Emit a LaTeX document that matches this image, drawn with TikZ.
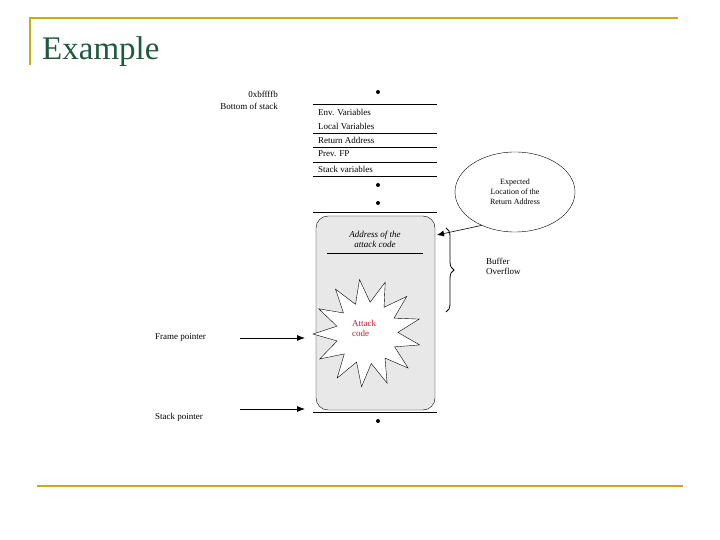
\documentclass[tikz,border=0pt]{standalone}
\usepackage{fontspec}
\setmainfont{Liberation Serif}
\usetikzlibrary{shapes.geometric,decorations.pathreplacing,patterns,arrows.meta}
\definecolor{gold}{RGB}{204,170,20}
\definecolor{titlegreen}{RGB}{30,90,60}
\definecolor{attackred}{RGB}{190,30,40}
\tikzset{
  lbl/.style={font=\fontsize{9}{10}\selectfont, inner sep=0pt},
  row/.style={lbl, anchor=west},
  sep/.style={line width=0.7pt},
  ptr/.style={-{Latex[length=8pt,width=6pt]}, line width=0.8pt},
  stackdot/.style={circle, fill=black, inner sep=0pt, minimum size=4pt}
}
\begin{document}
\begin{tikzpicture}[x=1pt,y=-1pt]
\useasboundingbox (0,0) rectangle (720,540);
% frame
\draw[gold, line width=2pt] (30,65) -- (30,18) -- (678,18);
\draw[gold, line width=2pt] (37,486) -- (683,486);
\node[anchor=west, text=titlegreen, font=\fontsize{33}{35}\selectfont, inner sep=0pt] (title) at (42,52) {Example};
% left labels
\node[lbl, anchor=east] (addr) at (278,94) {0xbffffb};
\node[lbl, anchor=east] (bottom) at (278,106) {Bottom of stack};
% stack
\node[stackdot] (d1) at (378,92) {};
\foreach \y in {104,133,147,162,176,212,412} \draw[sep] (313,\y) -- (437,\y);
\node[row] (env) at (318,112) {Env. Variables};
\node[row] (loc) at (318,126) {Local Variables};
\node[row] (ret) at (318,140) {Return Address};
\node[row] (pfp) at (318,154) {Prev. FP};
\node[row] (sv) at (318,169) {Stack variables};
\node[stackdot] (d2) at (378,185) {};
\node[stackdot] (d3) at (378,203) {};
\node[stackdot] (d4) at (378,421) {};
% buffer box
\draw[rounded corners=12pt, fill=gray!18] (316,216) rectangle (435,410);
\node[lbl, font=\fontsize{9}{10}\selectfont\itshape, align=center] (ac) at (375,239) {Address of the\\attack code};
\draw[sep] (327,253) -- (423,253);
\node[star, star points=13, star point ratio=1.75, draw, fill=white, minimum size=108pt, inner sep=0pt, rotate=8] (burst) at (367,333) {};
\node[lbl, text=attackred, align=left, anchor=west] (atk) at (352,328) {Attack\\code};
% pointers
\node[lbl, anchor=west] (fp) at (155,337) {Frame pointer};
\node[lbl, anchor=west] (sp) at (155,417) {Stack pointer};
\coordinate (fpend) at (305,338);
\coordinate (spend) at (305,409);
\draw[ptr] (240,338) -- (fpend);
\draw[ptr] (240,409) -- (spend);
% ellipse
\node[ellipse, draw, minimum width=120pt, minimum height=80pt, inner sep=0pt, lbl, align=center, font=\fontsize{8}{10}\selectfont] (exp) at (515,192) {Expected\\Location of the\\Return Address};
\coordinate (target) at (437,235);
\draw[-{Latex[length=7pt,width=6pt]}, line width=0.6pt] (exp.-135) -- (target);
% brace
\draw[decorate, decoration={brace, amplitude=8pt}, line width=0.8pt] (446,228) -- (446,312);
\node[lbl, align=left, anchor=west] (bo) at (486,266) {Buffer\\Overflow};
\end{tikzpicture}
\end{document}
